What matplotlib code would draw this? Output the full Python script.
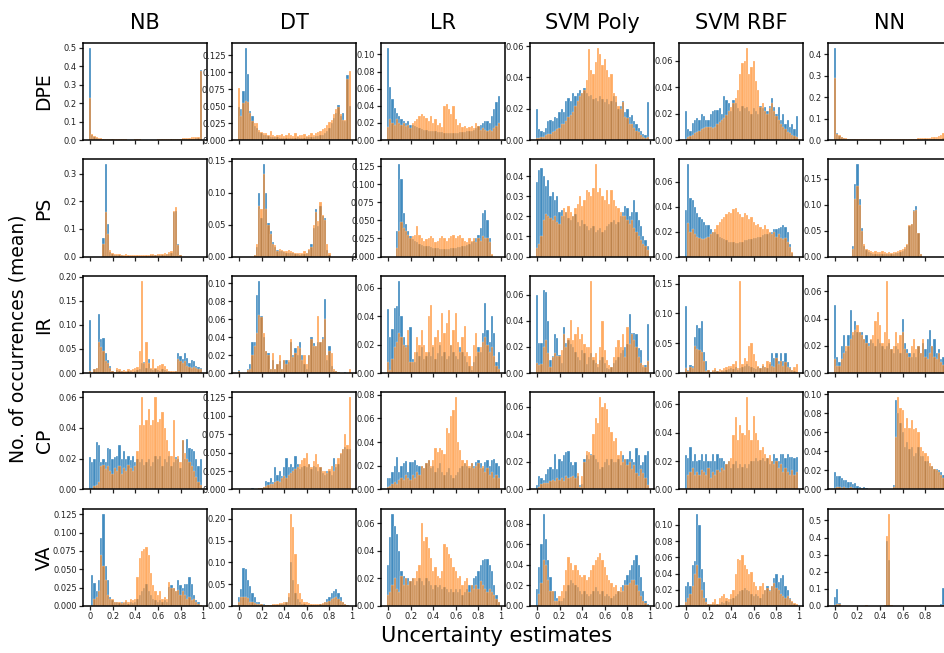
import numpy as np
import matplotlib.pyplot as plt
from matplotlib.ticker import MaxNLocator

# ── Data: mean occurrences per bin, in units of 0.001 (50 bins over [0, 1)) ──
SCALE = 1e-3

methods = ["NB", "DT", "LR", "SVM Poly", "SVM RBF", "NN"]
estimates = ["DPE", "PS", "IR", "CP", "VA"]
bin_centers = np.arange(50) * 0.02
xtick_vals = [0, 0.2, 0.4, 0.6, 0.8, 1.0]
xtick_labels = ["0", "0.2", "0.4", "0.6", "0.8", "1"]

# DPE
dpe_nb_s1 = [500, 25, 15, 10, 8, 6, 5, 4, 3, 3, 3, 2, 2, 2, 2, 2, 2, 2, 2, 2,
             2, 2, 2, 2, 2, 2, 2, 2, 2, 2, 2, 2, 2, 2, 2, 2, 3, 3, 3, 3,
             4, 4, 5, 5, 6, 7, 8, 9, 10, 380]
dpe_nb_s2 = [225, 30, 20, 15, 12, 10, 8, 6, 5, 5, 4, 4, 3, 8, 3, 3, 3, 2, 2, 2,
             3, 6, 3, 2, 2, 2, 2, 2, 2, 2, 3, 3, 3, 3, 8, 5, 5, 4, 6, 8,
             8, 10, 12, 10, 12, 14, 15, 15, 18, 375]
dpe_dt_s1 = [49, 45, 72, 136, 97, 42, 35, 20, 18, 12, 10, 8, 7, 6, 5, 5, 4, 4, 3, 3,
             3, 3, 3, 3, 3, 3, 4, 3, 3, 3, 4, 5, 5, 5, 6, 6, 7, 8, 10, 14,
             18, 25, 32, 40, 51, 35, 40, 28, 96, 50]
dpe_dt_s2 = [76, 35, 55, 58, 56, 40, 28, 25, 25, 15, 12, 10, 10, 8, 14, 8, 6, 7, 8, 9,
             6, 7, 10, 8, 6, 10, 6, 7, 8, 9, 6, 8, 10, 8, 10, 12, 14, 16, 18, 22,
             26, 30, 38, 45, 48, 38, 30, 30, 90, 101]
dpe_lr_s1 = [108, 62, 48, 37, 32, 28, 25, 22, 20, 22, 18, 17, 16, 15, 14, 13, 12, 12, 11, 11,
             10, 10, 9, 9, 9, 8, 8, 8, 8, 8, 8, 8, 9, 9, 9, 10, 10, 11, 12, 14,
             16, 18, 20, 22, 22, 20, 28, 36, 44, 52]
dpe_lr_s2 = [15, 25, 20, 18, 25, 20, 18, 20, 16, 18, 14, 20, 22, 25, 28, 30, 28, 26, 22, 28,
             20, 25, 18, 20, 15, 40, 42, 36, 30, 40, 25, 18, 20, 15, 16, 14, 15, 16, 14, 20,
             16, 12, 14, 12, 10, 12, 10, 14, 16, 20]
dpe_svmp_s1 = [20, 7, 6, 5, 8, 12, 13, 12, 15, 14, 18, 20, 18, 25, 27, 25, 30, 28, 30, 32,
               30, 33, 30, 28, 29, 26, 27, 25, 28, 26, 24, 26, 23, 25, 28, 24, 20, 22, 25, 18,
               20, 15, 16, 12, 10, 8, 6, 4, 3, 24]
dpe_svmp_s2 = [1, 1, 2, 2, 3, 4, 4, 5, 6, 7, 8, 10, 10, 12, 15, 16, 18, 22, 25, 28,
               30, 32, 38, 58, 45, 42, 50, 59, 55, 48, 52, 45, 40, 42, 30, 28, 22, 20, 24, 15,
               14, 10, 10, 8, 6, 5, 3, 2, 1, 2]
dpe_svmr_s1 = [22, 8, 7, 13, 15, 17, 15, 20, 18, 15, 15, 20, 22, 23, 23, 24, 20, 33, 30, 28,
               22, 30, 28, 24, 22, 26, 24, 25, 22, 20, 24, 22, 20, 26, 24, 25, 22, 26, 32, 25,
               20, 25, 15, 20, 12, 15, 10, 12, 8, 18]
dpe_svmr_s2 = [1, 2, 3, 4, 5, 6, 7, 8, 9, 10, 10, 10, 9, 10, 12, 14, 15, 17, 19, 22,
               25, 28, 32, 38, 50, 58, 60, 70, 50, 55, 60, 45, 38, 25, 28, 22, 20, 24, 28, 22,
               18, 15, 12, 10, 8, 6, 5, 4, 3, 2]
dpe_nn_s1 = [430, 35, 20, 12, 8, 6, 5, 4, 3, 3, 2, 2, 2, 2, 2, 2, 2, 2, 2, 2,
             2, 2, 2, 2, 2, 2, 2, 2, 2, 2, 2, 2, 2, 2, 2, 2, 2, 2, 2, 2,
             3, 3, 3, 3, 4, 4, 5, 6, 8, 10]
dpe_nn_s2 = [290, 30, 22, 15, 10, 8, 6, 5, 5, 4, 4, 3, 3, 3, 3, 3, 5, 3, 3, 3,
             3, 3, 3, 3, 4, 4, 5, 4, 3, 3, 4, 5, 5, 6, 7, 6, 7, 8, 8, 8,
             9, 10, 10, 12, 12, 14, 18, 25, 35, 40]

# PS
ps_nb_s1 = [0, 0, 0, 0, 0, 0, 68, 335, 118, 15, 8, 6, 5, 4, 4, 3, 3, 3, 3, 3,
            3, 3, 3, 3, 3, 3, 3, 4, 4, 4, 5, 5, 6, 6, 8, 10, 12, 160, 165, 45,
            5, 0, 0, 0, 0, 0, 0, 0, 0, 0]
ps_nb_s2 = [0, 0, 0, 0, 0, 0, 45, 160, 80, 22, 12, 10, 8, 8, 6, 5, 8, 6, 5, 6,
            5, 4, 4, 5, 4, 4, 4, 8, 8, 7, 8, 9, 10, 12, 10, 15, 20, 165, 178, 40,
            6, 0, 0, 0, 0, 0, 0, 0, 0, 0]
ps_dt_s1 = [0, 0, 0, 0, 0, 0, 0, 3, 15, 100, 60, 145, 100, 52, 40, 22, 15, 10, 8, 8,
            7, 6, 6, 5, 5, 4, 4, 3, 4, 4, 6, 10, 20, 45, 75, 48, 80, 63, 60, 10,
            3, 0, 0, 0, 0, 0, 0, 0, 0, 0]
ps_dt_s2 = [0, 0, 0, 0, 0, 0, 0, 3, 20, 80, 75, 130, 75, 50, 35, 20, 18, 8, 12, 10,
            9, 8, 10, 8, 7, 6, 5, 6, 5, 8, 6, 12, 15, 50, 70, 55, 85, 65, 58, 20,
            5, 0, 0, 0, 0, 0, 0, 0, 0, 0]
ps_lr_s1 = [0, 0, 0, 0, 35, 128, 108, 60, 45, 35, 28, 24, 22, 20, 18, 16, 15, 14, 14, 13,
            12, 12, 12, 11, 11, 11, 11, 11, 12, 12, 12, 13, 13, 14, 15, 16, 18, 20, 22, 25,
            30, 40, 60, 65, 50, 25, 2, 0, 0, 0]
ps_lr_s2 = [0, 0, 0, 0, 12, 35, 48, 40, 35, 30, 25, 28, 30, 42, 30, 25, 22, 24, 26, 28,
            25, 20, 22, 25, 28, 26, 22, 25, 28, 30, 25, 28, 30, 25, 22, 20, 25, 22, 25, 20,
            25, 22, 28, 26, 26, 20, 3, 0, 0, 0]
ps_svmp_s1 = [37, 43, 44, 40, 35, 38, 30, 32, 28, 30, 22, 23, 20, 22, 19, 18, 20, 21, 17, 15,
              18, 16, 15, 13, 14, 15, 12, 13, 14, 12, 13, 15, 16, 17, 18, 16, 17, 20, 22, 25,
              24, 20, 22, 28, 22, 18, 15, 10, 8, 5]
ps_svmp_s2 = [4, 6, 10, 18, 21, 20, 19, 18, 20, 17, 16, 20, 24, 22, 25, 22, 20, 24, 26, 30,
              25, 28, 33, 32, 30, 34, 46, 32, 34, 30, 28, 33, 26, 33, 28, 25, 24, 22, 20, 20,
              18, 16, 18, 14, 12, 10, 8, 6, 5, 3]
ps_svmr_s1 = [37, 74, 47, 45, 40, 35, 32, 30, 28, 25, 25, 22, 20, 20, 18, 16, 15, 14, 13, 12,
              12, 12, 11, 11, 12, 12, 13, 13, 14, 14, 15, 15, 16, 16, 17, 18, 18, 19, 20, 22,
              22, 23, 24, 25, 24, 20, 10, 3, 0, 0]
ps_svmr_s2 = [0, 27, 20, 22, 18, 16, 15, 14, 14, 15, 16, 18, 20, 22, 25, 28, 30, 32, 34, 36,
              35, 38, 39, 36, 34, 32, 35, 33, 30, 32, 28, 25, 26, 24, 22, 25, 22, 20, 18, 20,
              16, 18, 15, 14, 15, 12, 8, 4, 0, 0]
ps_nn_s1 = [0, 0, 0, 0, 0, 0, 0, 0, 20, 140, 178, 110, 55, 20, 12, 8, 6, 5, 5, 4,
            4, 4, 4, 4, 4, 5, 5, 6, 7, 8, 10, 14, 22, 58, 62, 90, 98, 45, 4, 0,
            0, 0, 0, 0, 0, 0, 0, 0, 0, 0]
ps_nn_s2 = [0, 0, 0, 0, 0, 0, 0, 0, 15, 110, 135, 100, 50, 25, 15, 12, 10, 8, 10, 9,
            8, 10, 8, 6, 8, 7, 9, 8, 10, 12, 15, 18, 25, 60, 62, 88, 90, 45, 5, 0,
            0, 0, 0, 0, 0, 0, 0, 0, 0, 0]

# IR
ir_nb_s1 = [110, 0, 8, 10, 122, 70, 72, 42, 28, 15, 5, 3, 6, 5, 4, 3, 3, 4, 5, 3,
            4, 6, 8, 20, 22, 10, 30, 8, 6, 8, 6, 5, 8, 6, 5, 4, 3, 3, 5, 42,
            35, 30, 42, 32, 20, 28, 25, 15, 12, 10]
ir_nb_s2 = [5, 0, 8, 10, 65, 55, 45, 25, 20, 10, 5, 3, 10, 8, 5, 6, 5, 8, 6, 8,
            10, 12, 45, 192, 20, 65, 20, 10, 30, 10, 15, 17, 18, 15, 8, 5, 5, 5, 4, 30,
            25, 20, 25, 15, 12, 10, 12, 10, 8, 8]
ir_dt_s1 = [3, 0, 0, 0, 5, 10, 35, 35, 87, 103, 63, 40, 25, 22, 5, 15, 5, 10, 13, 5,
            15, 15, 12, 35, 20, 28, 20, 35, 20, 10, 5, 20, 40, 33, 30, 35, 35, 40, 83, 15,
            30, 8, 2, 2, 1, 0, 0, 1, 0, 0]
ir_dt_s2 = [2, 0, 0, 0, 3, 5, 20, 30, 45, 65, 62, 45, 25, 20, 5, 22, 5, 10, 20, 5,
            15, 10, 15, 38, 18, 22, 30, 28, 15, 20, 10, 20, 38, 30, 30, 64, 35, 38, 60, 20,
            25, 22, 5, 2, 1, 0, 0, 0, 0, 5]
ir_lr_s1 = [45, 25, 31, 46, 47, 65, 40, 25, 20, 20, 32, 10, 8, 15, 12, 18, 10, 12, 15, 12,
            18, 10, 14, 20, 12, 15, 10, 12, 20, 15, 12, 10, 18, 15, 12, 8, 5, 2, 8, 12,
            18, 15, 28, 49, 30, 22, 40, 28, 8, 15]
ir_lr_s2 = [8, 2, 10, 18, 22, 28, 25, 20, 18, 30, 8, 8, 15, 25, 20, 30, 20, 15, 40, 48,
            20, 25, 30, 22, 42, 28, 35, 44, 20, 30, 42, 22, 15, 25, 33, 15, 12, 5, 20, 28,
            15, 18, 22, 25, 20, 15, 18, 12, 5, 3]
ir_svmp_s1 = [60, 23, 23, 64, 62, 40, 10, 13, 30, 27, 14, 8, 35, 23, 25, 22, 20, 16, 12, 10,
              18, 15, 7, 12, 15, 10, 8, 5, 10, 12, 8, 4, 3, 5, 8, 10, 12, 15, 18, 20,
              22, 45, 31, 31, 30, 19, 18, 5, 6, 38]
ir_svmp_s2 = [8, 6, 7, 20, 25, 15, 5, 12, 15, 13, 13, 18, 30, 20, 27, 41, 25, 30, 35, 26,
              30, 22, 20, 20, 71, 12, 15, 7, 20, 40, 18, 10, 6, 5, 12, 20, 25, 20, 30, 12,
              35, 22, 30, 25, 20, 12, 8, 6, 5, 9]
ir_svmr_s1 = [112, 5, 14, 12, 60, 80, 75, 88, 35, 20, 5, 2, 3, 5, 3, 2, 4, 3, 5, 6,
              8, 6, 10, 5, 8, 10, 12, 15, 12, 10, 8, 6, 10, 8, 12, 10, 8, 15, 33, 25,
              33, 20, 33, 20, 33, 18, 10, 5, 3, 2]
ir_svmr_s2 = [8, 3, 10, 8, 45, 40, 38, 35, 20, 3, 5, 2, 5, 8, 3, 6, 5, 8, 10, 12,
              12, 15, 20, 8, 155, 15, 25, 20, 45, 50, 32, 20, 12, 8, 15, 10, 20, 18, 12, 10,
              25, 15, 20, 12, 18, 10, 8, 5, 10, 15]
ir_nn_s1 = [50, 12, 8, 20, 28, 16, 28, 46, 28, 38, 30, 30, 30, 25, 28, 22, 24, 22, 20, 25,
            22, 20, 18, 20, 22, 18, 15, 20, 18, 15, 40, 22, 18, 15, 12, 15, 12, 20, 15, 22,
            18, 25, 32, 20, 25, 15, 18, 10, 12, 8]
ir_nn_s2 = [10, 5, 5, 10, 15, 20, 20, 25, 30, 32, 35, 30, 28, 25, 22, 20, 25, 28, 38, 45,
            35, 22, 30, 68, 25, 18, 20, 30, 22, 28, 30, 18, 15, 12, 20, 25, 18, 20, 15, 25,
            12, 10, 15, 20, 12, 10, 15, 8, 6, 10]

# CP
cp_nb_s1 = [21, 18, 20, 31, 29, 18, 20, 18, 27, 26, 20, 21, 22, 29, 20, 25, 20, 22, 19, 22,
            18, 20, 18, 20, 16, 18, 20, 15, 18, 22, 20, 22, 15, 20, 18, 22, 15, 18, 21, 20,
            14, 32, 20, 33, 27, 26, 25, 20, 15, 20]
cp_nb_s2 = [0, 0, 2, 3, 5, 15, 16, 13, 15, 12, 10, 14, 12, 15, 10, 14, 12, 16, 14, 12,
            15, 25, 42, 60, 42, 45, 52, 42, 45, 60, 44, 46, 50, 40, 32, 25, 22, 45, 20, 22,
            18, 32, 24, 20, 18, 15, 12, 8, 5, 3]
cp_dt_s1 = [0, 0, 0, 1, 1, 1, 2, 1, 1, 1, 2, 3, 12, 10, 15, 10, 30, 20, 25, 18,
            30, 42, 30, 35, 30, 45, 35, 28, 30, 32, 30, 35, 28, 32, 30, 25, 30, 22, 20, 25,
            25, 20, 42, 30, 35, 48, 55, 58, 55, 55]
cp_dt_s2 = [0, 0, 0, 1, 1, 1, 1, 1, 1, 2, 2, 4, 5, 6, 8, 8, 10, 12, 10, 15,
            18, 15, 20, 22, 25, 28, 30, 35, 40, 42, 50, 35, 30, 38, 48, 35, 30, 25, 25, 22,
            28, 32, 25, 35, 42, 50, 55, 75, 60, 125]
cp_lr_s1 = [10, 10, 15, 20, 27, 15, 20, 22, 24, 15, 23, 23, 25, 21, 20, 20, 18, 22, 25, 18,
            20, 15, 18, 22, 15, 12, 15, 18, 12, 10, 12, 15, 18, 20, 22, 20, 18, 22, 20, 23,
            25, 22, 18, 23, 25, 20, 25, 26, 22, 20]
cp_lr_s2 = [2, 3, 5, 6, 5, 8, 10, 8, 12, 10, 8, 12, 10, 15, 12, 20, 18, 22, 25, 20,
            25, 35, 32, 35, 33, 30, 52, 48, 62, 67, 78, 40, 33, 25, 22, 25, 20, 22, 18, 20,
            22, 18, 20, 15, 18, 12, 15, 10, 12, 10]
cp_svmp_s1 = [3, 10, 8, 7, 11, 15, 16, 15, 26, 15, 22, 21, 25, 27, 28, 20, 18, 20, 10, 3,
              4, 22, 25, 22, 26, 25, 22, 20, 15, 16, 20, 22, 18, 22, 20, 20, 22, 18, 25, 22,
              22, 28, 22, 20, 30, 25, 18, 20, 25, 28]
cp_svmp_s2 = [0, 2, 4, 5, 5, 5, 6, 7, 6, 8, 7, 8, 6, 10, 8, 9, 10, 8, 12, 2,
              10, 20, 28, 27, 25, 40, 52, 48, 67, 60, 63, 58, 45, 42, 35, 37, 25, 28, 20, 22,
              18, 20, 15, 18, 12, 10, 15, 12, 8, 3]
cp_svmr_s1 = [24, 22, 30, 20, 25, 20, 21, 25, 20, 25, 20, 20, 25, 20, 25, 22, 22, 20, 18, 20,
              15, 18, 20, 15, 18, 16, 18, 15, 18, 20, 20, 22, 20, 21, 22, 20, 22, 18, 20, 25,
              22, 20, 25, 25, 22, 25, 23, 23, 22, 23]
cp_svmr_s2 = [0, 10, 12, 15, 10, 12, 10, 14, 12, 10, 15, 8, 12, 10, 14, 12, 15, 14, 18, 20,
              22, 38, 51, 35, 45, 40, 38, 65, 42, 35, 52, 40, 35, 28, 30, 25, 22, 24, 20, 18,
              20, 15, 18, 12, 15, 12, 10, 14, 10, 12]
cp_nn_s1 = [18, 14, 14, 12, 10, 10, 8, 8, 6, 7, 4, 3, 2, 3, 2, 1, 1, 1, 1, 1,
            1, 1, 1, 1, 1, 1, 5, 94, 80, 70, 60, 45, 50, 42, 45, 35, 38, 45, 35, 35,
            30, 30, 25, 25, 22, 22, 20, 18, 15, 12]
cp_nn_s2 = [2, 3, 3, 2, 3, 2, 2, 3, 2, 1, 1, 1, 0, 1, 0, 0, 0, 0, 0, 0,
            0, 0, 0, 0, 0, 0, 3, 55, 97, 85, 83, 65, 75, 65, 73, 63, 65, 60, 45, 40,
            38, 35, 28, 25, 22, 20, 18, 15, 12, 10]

# VA
va_nb_s1 = [0, 42, 31, 20, 35, 92, 126, 55, 35, 12, 8, 5, 5, 4, 5, 4, 5, 3, 5, 4,
            5, 10, 15, 20, 25, 30, 20, 15, 10, 8, 6, 8, 5, 8, 5, 26, 28, 25, 20, 35,
            28, 25, 30, 30, 40, 30, 15, 8, 5, 2]
va_nb_s2 = [0, 0, 10, 12, 20, 70, 55, 35, 15, 10, 10, 5, 5, 5, 4, 5, 8, 5, 10, 8,
            10, 40, 65, 75, 78, 81, 70, 45, 28, 20, 15, 20, 10, 12, 10, 33, 25, 25, 20, 22,
            15, 20, 15, 10, 12, 8, 10, 5, 3, 2]
va_dt_s1 = [20, 40, 88, 85, 60, 45, 30, 20, 10, 8, 5, 4, 3, 3, 3, 3, 3, 3, 4, 4,
            5, 10, 20, 100, 60, 30, 15, 10, 5, 5, 3, 3, 3, 3, 3, 3, 4, 5, 10, 15,
            20, 30, 35, 38, 30, 20, 10, 5, 2, 1]
va_dt_s2 = [10, 20, 20, 20, 18, 10, 8, 6, 5, 5, 4, 3, 3, 3, 3, 4, 4, 5, 6, 6,
            8, 10, 30, 212, 180, 120, 50, 30, 15, 10, 8, 6, 5, 4, 4, 4, 5, 6, 8, 10,
            12, 15, 18, 20, 15, 12, 8, 5, 3, 1]
va_lr_s1 = [30, 50, 67, 58, 52, 40, 25, 22, 20, 20, 18, 20, 15, 18, 20, 18, 15, 20, 18, 15,
            12, 15, 14, 15, 12, 14, 12, 10, 12, 10, 12, 10, 12, 8, 10, 12, 15, 15, 20, 22,
            25, 30, 33, 34, 34, 30, 25, 15, 8, 3]
va_lr_s2 = [8, 10, 15, 20, 12, 10, 22, 15, 20, 15, 18, 20, 20, 25, 30, 60, 47, 50, 42, 35,
            25, 28, 22, 20, 25, 45, 43, 38, 35, 28, 25, 20, 22, 15, 18, 20, 10, 15, 12, 15,
            12, 18, 15, 12, 10, 12, 10, 8, 5, 3]
va_svmp_s1 = [17, 38, 60, 90, 65, 45, 28, 15, 15, 8, 5, 5, 8, 15, 20, 25, 22, 20, 18, 15,
              12, 15, 12, 10, 12, 15, 18, 15, 12, 15, 10, 12, 10, 8, 10, 12, 15, 14, 20, 25,
              30, 35, 40, 45, 50, 40, 28, 15, 5, 2]
va_svmp_s2 = [0, 12, 22, 45, 40, 25, 15, 15, 5, 5, 10, 15, 20, 35, 48, 42, 35, 40, 35, 30,
              28, 30, 25, 28, 35, 40, 45, 48, 52, 45, 38, 30, 25, 22, 18, 20, 15, 18, 15, 20,
              20, 22, 25, 25, 20, 15, 10, 5, 3, 1]
va_svmr_s1 = [25, 30, 25, 50, 55, 114, 100, 45, 30, 10, 2, 3, 2, 3, 2, 3, 5, 4, 6, 5,
              8, 10, 12, 15, 18, 20, 22, 20, 18, 15, 12, 15, 12, 10, 15, 20, 25, 20, 25, 35,
              40, 30, 35, 38, 25, 20, 10, 5, 2, 1]
va_svmr_s2 = [5, 10, 15, 25, 40, 50, 35, 20, 10, 5, 3, 2, 5, 8, 3, 10, 12, 15, 10, 8,
              15, 20, 40, 58, 57, 63, 50, 45, 40, 42, 30, 25, 20, 25, 28, 20, 22, 18, 25, 28,
              22, 20, 15, 12, 10, 12, 8, 6, 4, 2]
va_nn_s1 = [50, 100, 15, 0, 0, 0, 0, 0, 0, 0, 0, 0, 0, 0, 0, 0, 0, 0, 0, 0,
            0, 0, 0, 380, 270, 0, 0, 0, 0, 0, 0, 0, 0, 0, 0, 0, 0, 0, 0, 0,
            0, 0, 0, 0, 0, 0, 0, 10, 105, 60]
va_nn_s2 = [5, 10, 10, 2, 1, 1, 2, 1, 1, 2, 1, 2, 1, 2, 3, 2, 1, 2, 1, 1,
            2, 1, 3, 410, 540, 3, 1, 1, 2, 1, 1, 2, 1, 1, 1, 1, 2, 1, 1, 1,
            1, 1, 1, 1, 2, 1, 1, 2, 3, 5]

grid = [
    [(dpe_nb_s1, dpe_nb_s2), (dpe_dt_s1, dpe_dt_s2), (dpe_lr_s1, dpe_lr_s2),
     (dpe_svmp_s1, dpe_svmp_s2), (dpe_svmr_s1, dpe_svmr_s2), (dpe_nn_s1, dpe_nn_s2)],
    [(ps_nb_s1, ps_nb_s2), (ps_dt_s1, ps_dt_s2), (ps_lr_s1, ps_lr_s2),
     (ps_svmp_s1, ps_svmp_s2), (ps_svmr_s1, ps_svmr_s2), (ps_nn_s1, ps_nn_s2)],
    [(ir_nb_s1, ir_nb_s2), (ir_dt_s1, ir_dt_s2), (ir_lr_s1, ir_lr_s2),
     (ir_svmp_s1, ir_svmp_s2), (ir_svmr_s1, ir_svmr_s2), (ir_nn_s1, ir_nn_s2)],
    [(cp_nb_s1, cp_nb_s2), (cp_dt_s1, cp_dt_s2), (cp_lr_s1, cp_lr_s2),
     (cp_svmp_s1, cp_svmp_s2), (cp_svmr_s1, cp_svmr_s2), (cp_nn_s1, cp_nn_s2)],
    [(va_nb_s1, va_nb_s2), (va_dt_s1, va_dt_s2), (va_lr_s1, va_lr_s2),
     (va_svmp_s1, va_svmp_s2), (va_svmr_s1, va_svmr_s2), (va_nn_s1, va_nn_s2)],
]

for r, row in enumerate(grid):
    for c, (s1, s2) in enumerate(row):
        assert len(s1) == 50 and len(s2) == 50, (estimates[r], methods[c], len(s1), len(s2))

# ── Figure ─────────────────────────────────────────────────────────────────────
fig, axes = plt.subplots(5, 6, figsize=(9.45, 6.53), dpi=100)
# last column runs past the right edge, as in the original export
fig.subplots_adjust(left=0.0878, right=1.0074, top=0.9342, bottom=0.072,
                    wspace=0.2, hspace=0.2)

blue, orange = "#1f77b4", "#ff7f0e"

for r in range(5):
    for c in range(6):
        ax = axes[r, c]
        s1, s2 = grid[r][c]
        ax.bar(bin_centers, np.array(s1) * SCALE, width=0.02, color=blue,
               alpha=0.85, edgecolor="white", linewidth=0.25)
        ax.bar(bin_centers, np.array(s2) * SCALE, width=0.02, color=orange,
               alpha=0.65, edgecolor="white", linewidth=0.25)
        ax.set_xlim(-0.062, 1.035)
        ax.yaxis.set_major_locator(MaxNLocator(nbins=6, steps=[1, 2, 2.5, 5, 10]))
        ax.set_xticks(xtick_vals)
        if r == 4:
            labels = list(xtick_labels)
            if c == 5:
                labels[-1] = ""  # falls outside the figure
            ax.set_xticklabels(labels)
        else:
            ax.set_xticklabels([])
        ax.tick_params(labelsize=6, length=3, width=0.9, pad=1.5, colors="#222222")
        for sp in ax.spines.values():
            sp.set_linewidth(1.1)
            sp.set_color("black")
        if r == 0:
            ax.set_title(methods[c], fontsize=15, pad=10)

# row labels
for r, name in enumerate(estimates):
    pos = axes[r, 0].get_position()
    fig.text(0.0466, (pos.y0 + pos.y1) / 2, name, rotation=90,
             ha="center", va="center", fontsize=13.5)

fig.text(0.019, 0.481, "No. of occurrences (mean)", rotation=90,
         ha="center", va="center", fontsize=13.5)
fig.text(0.525, 0.026, "Uncertainty estimates", ha="center", va="center", fontsize=15)

fig.savefig("out.png", dpi=100)
